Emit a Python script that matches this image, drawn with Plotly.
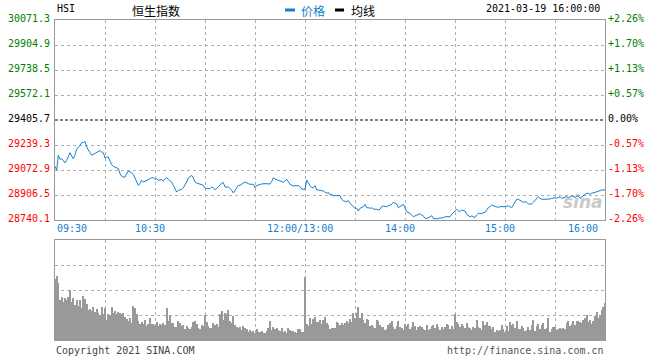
import plotly.graph_objects as go

# ---------------- data ----------------
prev_close = 29405.7
y_ticks = [28740.1, 28906.5, 29072.9, 29239.3, 29405.7, 29572.1, 29738.5, 29904.9, 30071.3]
pct_labels = ["-2.26%", "-1.70%", "-1.13%", "-0.57%", "0.00%", "+0.57%", "+1.13%", "+1.70%", "+2.26%"]
time_labels = ["09:30", "10:30", "12:00/13:00", "14:00", "15:00", "16:00"]
time_label_minutes = [0, 60, 150, 210, 270, 330]

# minute offset from 09:30 (lunch break removed), price
price_minutes = [0, 1, 2, 3, 4, 6, 7, 9, 10, 11, 12, 13, 15, 16, 17, 18, 19, 20, 21, 22,
                 24, 25, 26, 27, 28, 29, 30, 31, 32, 33, 34, 35, 37, 38, 39, 40, 41, 42, 43, 44,
                 46, 47, 48, 49, 50, 51, 52, 53, 54, 56, 57, 58, 59, 60, 61, 62, 64, 65, 66, 67,
                 68, 70, 71, 72, 73, 74, 76, 77, 78, 79, 80, 82, 83, 84, 85, 86, 88, 89, 90, 91,
                 93, 94, 95, 96, 98, 99, 100, 101, 102, 104, 105, 106, 107, 108, 110, 111, 112, 113, 114, 116,
                 117, 119, 120, 121, 123, 124, 126, 128, 129, 130, 131, 132, 134, 135, 137, 138, 139, 140, 141, 143,
                 144, 146, 147, 148, 150, 151, 152, 153, 154, 155, 156, 157, 158, 160, 161, 163, 164, 165, 166, 167,
                 169, 171, 172, 173, 175, 176, 177, 179, 180, 181, 182, 183, 185, 186, 187, 188, 189, 190, 191, 193,
                 194, 195, 196, 197, 199, 200, 201, 202, 203, 205, 206, 207, 208, 209, 210, 211, 213, 214, 215, 216,
                 217, 219, 220, 221, 222, 223, 225, 226, 227, 229, 230, 232, 233, 234, 236, 237, 238, 240, 241, 242,
                 243, 244, 246, 247, 248, 249, 250, 252, 253, 254, 255, 256, 258, 259, 260, 261, 262, 263, 264, 266,
                 267, 268, 269, 270, 272, 273, 274, 275, 276, 277, 278, 280, 281, 282, 283, 284, 286, 287, 288, 289,
                 290, 291, 292, 294, 296, 297, 298, 300, 301, 302, 303, 304, 306, 307, 308, 309, 310, 312, 313, 314,
                 315, 316, 318, 319, 320, 321, 322, 324, 325, 326, 327, 328, 330]
price_values = [29097, 29071, 29171, 29144, 29148, 29120, 29137, 29188, 29166, 29148, 29175, 29211, 29237, 29255, 29255, 29264, 29226, 29204, 29188, 29171,
                29182, 29186, 29193, 29202, 29193, 29188, 29153, 29159, 29159, 29131, 29108, 29097, 29086, 29082, 29048, 29031, 29026, 29026, 29048, 29066,
                29055, 29042, 29020, 28993, 28971, 28982, 29004, 28993, 28997, 29009, 29015, 29022, 29022, 29009, 29015, 29004, 29009, 29000, 29015, 29022,
                29011, 28993, 28971, 28949, 28926, 28938, 28944, 28955, 28971, 28993, 29020, 29037, 29020, 28993, 28986, 28982, 28975, 28971, 28953, 28949,
                28949, 28960, 28953, 28942, 28960, 28971, 28986, 28989, 28960, 28960, 28949, 28938, 28920, 28938, 28971, 28971, 28978, 28986, 28993, 28982,
                28978, 28978, 28955, 28969, 28978, 28980, 28982, 28980, 28980, 28995, 29022, 29013, 29004, 29004, 28991, 29000, 29011, 28995, 28978, 28966,
                28969, 28969, 28962, 28946, 28944, 29006, 28984, 28969, 28955, 28955, 28969, 28940, 28940, 28935, 28933, 28918, 28924, 28907, 28911, 28902,
                28904, 28902, 28878, 28867, 28862, 28869, 28851, 28829, 28818, 28818, 28800, 28818, 28829, 28844, 28822, 28822, 28818, 28822, 28813, 28811,
                28807, 28811, 28829, 28833, 28829, 28835, 28840, 28844, 28858, 28847, 28822, 28829, 28840, 28844, 28822, 28796, 28784, 28769, 28762, 28767,
                28773, 28782, 28773, 28767, 28751, 28751, 28760, 28769, 28751, 28747, 28751, 28751, 28756, 28762, 28762, 28762, 28778, 28796, 28811, 28802,
                28796, 28807, 28800, 28778, 28767, 28762, 28767, 28756, 28773, 28784, 28784, 28784, 28791, 28811, 28822, 28829, 28840, 28835, 28833, 28824,
                28829, 28829, 28829, 28829, 28835, 28829, 28822, 28840, 28858, 28878, 28878, 28867, 28858, 28862, 28858, 28847, 28847, 28858, 28873, 28884,
                28895, 28884, 28878, 28878, 28878, 28880, 28884, 28889, 28884, 28891, 28895, 28884, 28891, 28895, 28889, 28895, 28900, 28891, 28895, 28902,
                28884, 28895, 28911, 28918, 28918, 28911, 28918, 28924, 28929, 28929, 28935, 28940, 28940]

volume_values = [
    61, 64, 57, 40, 43, 38, 42, 40, 43, 50,
    38, 42, 35, 40, 34, 40, 32, 44, 41, 36,
    30, 31, 29, 33, 28, 31, 27, 25, 33, 26,
    32, 20, 26, 25, 33, 27, 29, 26, 28, 27,
    26, 27, 23, 21, 19, 22, 17, 34, 32, 26,
    19, 16, 18, 16, 20, 14, 16, 22, 16, 16,
    15, 18, 14, 16, 15, 17, 15, 32, 19, 25,
    17, 17, 13, 13, 19, 17, 14, 15, 11, 14,
    12, 11, 13, 18, 19, 16, 12, 11, 15, 14,
    25, 18, 14, 12, 12, 17, 15, 16, 13, 26,
    29, 20, 27, 26, 30, 19, 17, 24, 15, 13,
    12, 13, 10, 14, 12, 11, 8, 10, 8, 9,
    7, 11, 8, 8, 9, 7, 7, 9, 12, 19,
    10, 13, 11, 12, 10, 9, 12, 8, 9, 7,
    12, 10, 9, 9, 8, 7, 11, 11, 8, 8,
    63,
    16, 14, 22, 16, 21, 23, 18, 18, 20, 16,
    20, 23, 17, 15, 11, 12, 12, 12, 18, 17,
    15, 17, 15, 17, 19, 17, 21, 18, 27, 22,
    27, 33, 22, 27, 20, 17, 21, 20, 14, 15,
    13, 12, 20, 19, 15, 13, 13, 10, 11, 15,
    17, 19, 13, 11, 14, 19, 13, 12, 10, 16,
    14, 16, 11, 13, 18, 14, 10, 13, 14, 13,
    11, 10, 15, 10, 11, 14, 15, 12, 16, 13,
    10, 13, 11, 13, 16, 15, 11, 14, 11, 26,
    18, 16, 13, 16, 14, 12, 17, 13, 12, 10,
    13, 12, 20, 13, 12, 10, 19, 15, 18, 14,
    14, 11, 13, 8, 10, 9, 10, 15, 11, 8,
    14, 9, 18, 15, 16, 12, 19, 11, 11, 14,
    12, 9, 10, 13, 10, 15, 20, 9, 14, 16,
    11, 15, 17, 11, 12, 22, 8, 11, 13, 13,
    10, 11, 12, 11, 12, 11, 17, 19, 14, 16,
    19, 15, 19, 19, 18, 17, 20, 22, 25, 18,
    20, 16, 19, 24, 28, 22, 25, 30, 33, 37,
]
volume_minutes = list(range(len(volume_values)))

# ---------------- styling ----------------
MONO = "DejaVu Sans Mono, Liberation Mono, monospace"
CJK = "Noto Sans CJK SC, sans-serif"
BLUE = "#1480cc"
GREEN = "#008000"
RED = "#ff0000"
BORDER = "#999999"
GRID = "#b0b0b0"

W, H = 660, 360
ML, MR, MT, MB = 55, 55, 20, 20
PW, PH = W - ML - MR, H - MT - MB


def px(xp):
    return (xp - ML) / PW


def py(yp):
    return (H - MB - yp) / PH


fig = go.Figure()

fig.add_trace(go.Scatter(x=price_minutes, y=price_values, mode="lines",
                         line=dict(color=BLUE, width=1), xaxis="x", yaxis="y",
                         hoverinfo="skip", showlegend=False))

fig.add_trace(go.Bar(x=volume_minutes, y=volume_values, width=0.6,
                     marker=dict(color="#999999", line=dict(width=0)),
                     xaxis="x2", yaxis="y2", hoverinfo="skip", showlegend=False))

grid_common = dict(showgrid=True, gridcolor=GRID, griddash="dot", gridwidth=1,
                   showline=True, linecolor=BORDER, linewidth=1, mirror=True,
                   showticklabels=False, ticks="", zeroline=False, fixedrange=True)

fig.update_layout(
    width=W, height=H,
    margin=dict(l=ML, r=MR, t=MT, b=MB, pad=0),
    paper_bgcolor="white", plot_bgcolor="white",
    bargap=0,
    xaxis=dict(domain=[0, 1], anchor="y", range=[0, 330], tickmode="array",
               tickvals=list(range(30, 330, 30)), **grid_common),
    yaxis=dict(domain=[py(220), 1], anchor="x", range=[y_ticks[0], y_ticks[-1]], tickmode="array",
               tickvals=[v for v in y_ticks[1:-1] if v != prev_close], **grid_common),
    xaxis2=dict(domain=[0, 1], anchor="y2", range=[0, 330], tickmode="array",
                tickvals=list(range(30, 330, 30)), **grid_common),
    yaxis2=dict(domain=[0, py(240)], anchor="x2", range=[0, 100], tickmode="array",
                tickvals=[25, 50, 75], **grid_common),
)

# previous close dashed line
fig.add_shape(type="line", xref="x domain", yref="y", x0=0, x1=1, y0=prev_close, y1=prev_close,
              line=dict(color="black", width=1, dash="3px,2px"), layer="above")

ann = []
for i, v in enumerate(y_ticks):
    if v > prev_close:
        c = GREEN
    elif v < prev_close:
        c = RED
    else:
        c = "black"
    ann.append(dict(xref="paper", yref="y", x=0, y=v, xanchor="right", yanchor="middle",
                    xshift=-3, yshift=2, text=f"{v:.1f}", showarrow=False,
                    font=dict(family=MONO, size=10, color=c)))
    ann.append(dict(xref="paper", yref="y", x=1, y=v, xanchor="left", yanchor="middle",
                    xshift=1, yshift=2, text=pct_labels[i], showarrow=False,
                    font=dict(family=MONO, size=10, color=c)))

# time labels
for lab, m in zip(time_labels, time_label_minutes):
    if m == 0:
        xa, xs = "left", 0
    elif m == 330:
        xa, xs = "right", -5
    else:
        xa, xs = "center", -5
    ann.append(dict(xref="x", yref="paper", x=m, y=py(220), xanchor=xa, yanchor="middle",
                    xshift=xs, yshift=-8, text=lab, showarrow=False,
                    font=dict(family=MONO, size=10, color=BLUE)))

# header
ann += [
    dict(xref="paper", yref="paper", x=px(55), y=py(9), xanchor="left", yanchor="middle",
         text="HSI", showarrow=False, font=dict(family=MONO, size=10, color="black")),
    dict(xref="paper", yref="paper", x=px(130), y=py(10), xanchor="left", yanchor="middle",
         text="恒生指数", showarrow=False, font=dict(family=CJK, size=12, color="black")),
    dict(xref="paper", yref="paper", x=px(299), y=py(10), xanchor="left", yanchor="middle",
         text="价格", showarrow=False, font=dict(family=CJK, size=12, color=BLUE)),
    dict(xref="paper", yref="paper", x=px(349), y=py(10), xanchor="left", yanchor="middle",
         text="均线", showarrow=False, font=dict(family=CJK, size=12, color="black")),
    dict(xref="paper", yref="paper", x=px(602), y=py(9), xanchor="right", yanchor="middle",
         text="2021-03-19 16:00:00", showarrow=False, font=dict(family=MONO, size=10, color="black")),
    dict(xref="paper", yref="paper", x=px(54), y=py(350), xanchor="left", yanchor="middle",
         text="Copyright 2021 SINA.COM", showarrow=False, font=dict(family=MONO, size=10, color="#444444")),
    dict(xref="paper", yref="paper", x=px(606), y=py(350), xanchor="right", yanchor="middle",
         text="http://finance.sina.com.cn", showarrow=False, font=dict(family=MONO, size=10, color="#555555")),
    dict(xref="paper", yref="paper", x=px(583), y=py(202), xanchor="center", yanchor="middle",
         text="<b><i>sina</i></b>", showarrow=False, opacity=0.55,
         font=dict(family="DejaVu Sans", size=17, color="#a0a0a0")),
]
fig.update_layout(annotations=ann)

# legend swatches
fig.add_shape(type="rect", xref="paper", yref="paper", x0=px(285), x1=px(295), y0=py(11.5), y1=py(8.5),
              fillcolor=BLUE, line=dict(width=0))
fig.add_shape(type="rect", xref="paper", yref="paper", x0=px(335), x1=px(344), y0=py(11.5), y1=py(8.5),
              fillcolor="black", line=dict(width=0))

fig.write_html("out.html", config={"displayModeBar": False},
               post_script="document.body.style.margin='0';document.body.style.overflow='hidden';")
